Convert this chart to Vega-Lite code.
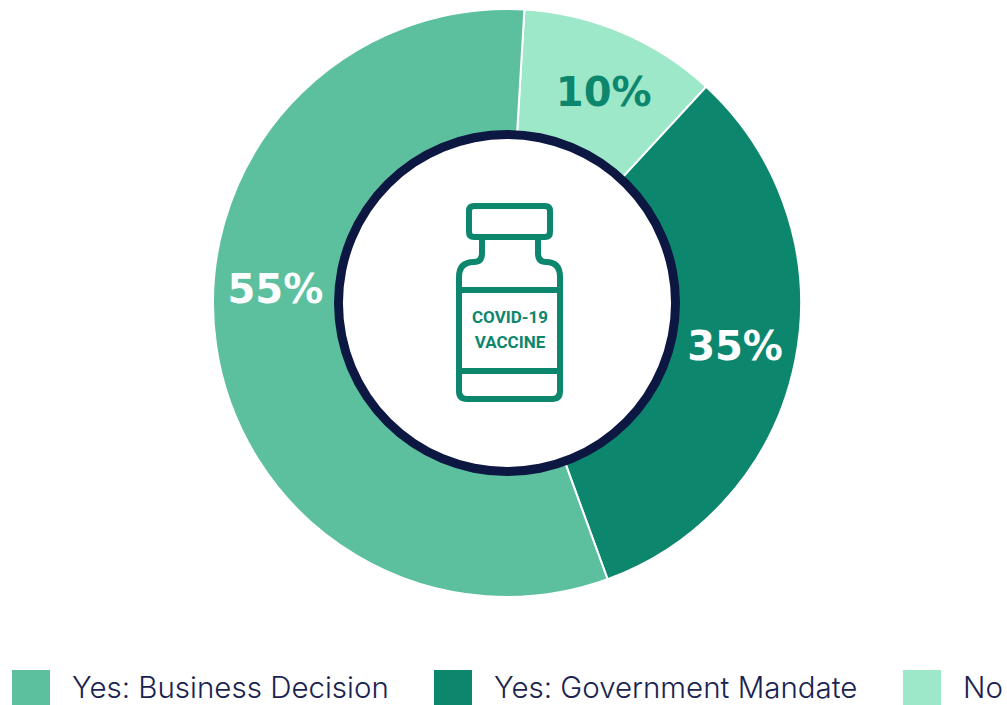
{
  "$schema": "https://vega.github.io/schema/vega-lite/v6.json",
  "width": 1014,
  "height": 606,
  "autosize": {"type": "none"},
  "padding": {"left": 0, "top": 0, "right": -7, "bottom": 99},
  "background": "white",
  "config": {"view": {"stroke": null}},
  "layer": [
    {
      "data": {"values": [
        {"answer": "No", "share": 10.9, "rank": 1},
        {"answer": "Yes: Government Mandate", "share": 32.6, "rank": 2},
        {"answer": "Yes: Business Decision", "share": 56.5, "rank": 3}
      ]},
      "mark": {"type": "arc", "radius": 294, "radius2": 168, "stroke": "white", "strokeWidth": 2},
      "encoding": {
        "theta": {"field": "share", "type": "quantitative", "stack": true, "scale": {"domain": [0, 100], "range": [0.0593, 6.3425]}},
        "order": {"field": "rank", "type": "ordinal"},
        "color": {
          "field": "answer",
          "type": "nominal",
          "scale": {"domain": ["Yes: Business Decision", "Yes: Government Mandate", "No"], "range": ["#5cc09f", "#0d866e", "#9de8c9"]},
          "legend": {
            "title": null,
            "orient": "none",
            "legendX": 12,
            "legendY": 670,
            "direction": "horizontal",
            "columns": 3,
            "gridAlign": "each",
            "columnPadding": 45,
            "symbolType": "square",
            "symbolSize": 1444,
            "symbolStrokeWidth": 0,
            "labelFont": "Inter",
            "labelFontWeight": 300,
            "labelFontSize": 29.5,
            "labelColor": "#1a2350",
            "labelOffset": 22,
            "labelLimit": 500
          }
        }
      }
    },
    {
      "data": {"values": [{"part": "ring"}]},
      "mark": {"type": "arc", "radius": 173, "radius2": 164, "theta": 0, "theta2": 6.2832, "color": "#0c1742"},
      "encoding": {}
    },
    {
      "data": {"values": [
        {"label": "10%", "at": 5.9},
        {"label": "35%", "at": 27},
        {"label": "55%", "at": 75}
      ]},
      "mark": {"type": "text", "radius": 232, "font": "DejaVu Sans", "fontWeight": "bold", "fontSize": 40, "align": "center", "baseline": "middle", "dy": 2},
      "encoding": {
        "theta": {"field": "at", "type": "quantitative", "stack": false, "scale": {"domain": [0, 100], "range": [0.0593, 6.3425]}},
        "text": {"field": "label", "type": "nominal"},
        "color": {"condition": {"test": "datum.label === '10%'", "value": "#0d866e"}, "value": "white"}
      }
    },
    {
      "data": {"values": [{"part": "vial"}]},
      "mark": {
        "type": "point",
        "filled": false,
        "size": 40000,
        "stroke": "#0d866e",
        "strokeWidth": 6,
        "opacity": 1,
        "shape": "M -0.33 -0.97 H 0.38 Q 0.43 -0.97 0.43 -0.92 V -0.71 Q 0.43 -0.66 0.38 -0.66 H -0.33 Q -0.38 -0.66 -0.38 -0.71 V -0.92 Q -0.38 -0.97 -0.33 -0.97 Z M -0.25 -0.66 V -0.5 Q -0.25 -0.41 -0.33 -0.41 Q -0.48 -0.41 -0.48 -0.26 V 0.88 Q -0.48 0.96 -0.4 0.96 H 0.45 Q 0.53 0.96 0.53 0.88 V -0.26 Q 0.53 -0.41 0.39 -0.41 Q 0.31 -0.41 0.31 -0.5 V -0.66 M -0.48 -0.13 H 0.53 M -0.48 0.68 H 0.53"
      },
      "encoding": {}
    },
    {
      "data": {"values": [{"line": "COVID-19"}]},
      "mark": {"type": "text", "font": "Roboto", "fontWeight": "bold", "fontSize": 17, "color": "#0d866e", "align": "center", "baseline": "middle", "dx": 3, "dy": 15},
      "encoding": {"text": {"field": "line", "type": "nominal"}}
    },
    {
      "data": {"values": [{"line": "VACCINE"}]},
      "mark": {"type": "text", "font": "Roboto", "fontWeight": "bold", "fontSize": 17, "color": "#0d866e", "align": "center", "baseline": "middle", "dx": 3, "dy": 40},
      "encoding": {"text": {"field": "line", "type": "nominal"}}
    }
  ]
}
